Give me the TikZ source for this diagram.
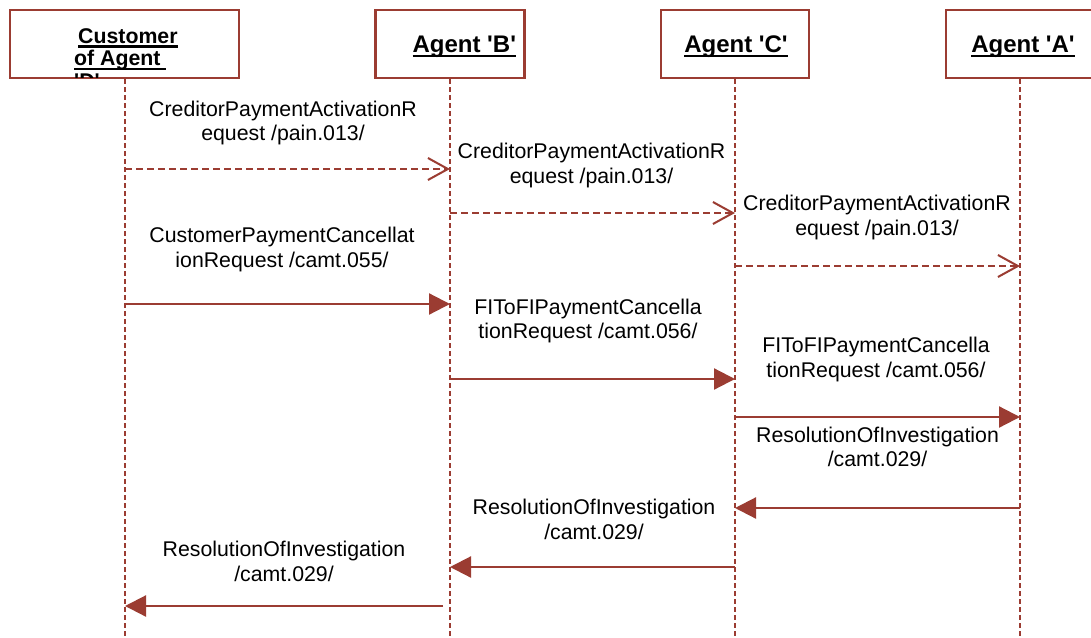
\documentclass[tikz,border=0pt]{standalone}
\usepackage{fontspec}
\setmainfont{Liberation Sans}
\usetikzlibrary{arrows.meta}
\definecolor{ln}{RGB}{155,60,50}
\newcommand\myul[2]{\setbox0=\hbox{#2}\rlap{\rule[-#1]{\wd0}{2.4pt}}\box0}
\tikzset{
  hbox/.style={draw=ln, line width=2.5pt, fill=white, minimum height=68pt, inner sep=0pt},
  htext/.style={inner sep=0pt, font=\fontsize{24}{28}\selectfont\bfseries},
  ctext/.style={inner sep=0pt, anchor=base west, font=\fontsize{21.3}{24}\selectfont\bfseries},
  lifeline/.style={draw=ln, line width=2.2pt, dash pattern=on 5pt off 3pt},
  lbl/.style={inner sep=0pt, anchor=north, align=center, font=\fontsize{21.3}{24.5}\selectfont},
  async/.style={draw=ln, line width=2pt, dash pattern=on 7pt off 4pt, -{Straight Barb[length=20pt,width=22pt,line width=2pt]}},
  sync/.style={draw=ln, line width=2.2pt, -{Triangle[length=21pt,width=21pt]}}
}
\begin{document}
\begin{tikzpicture}[x=1pt,y=-1pt]
\useasboundingbox (0,0) rectangle (1091,637);
\fill[white] (0,0) rectangle (1091,637);
% lifeline heads
\node[hbox, minimum width=229pt] (cust) at (124.5,44) {};
\node[hbox, minimum width=148.6pt] (agb) at (450,44) {};
\node[hbox, minimum width=148.3pt] (agc) at (735,44) {};
\node[hbox, minimum width=148pt] (aga) at (1020,44) {};
% lifelines
\coordinate (custend) at (125,637);
\coordinate (agbend) at (450,637);
\coordinate (agcend) at (735,637);
\coordinate (agaend) at (1020,637);
\draw[lifeline] (cust.south -| custend) -- (custend);
\draw[lifeline] (agb.south) -- (agbend);
\draw[lifeline] (agc.south) -- (agcend);
\draw[lifeline] (aga.south) -- (agaend);
% header texts
\begin{scope}
\clip (11,11) rectangle (238,77);
\node[ctext] (custt1) at (78,43.3) {\myul{4.5pt}{Customer}};
\node[ctext] (custt2) at (74,65.7) {\myul{4.5pt}{of Agent\ }};
\node[ctext] (custt3) at (74,88) {\myul{4.5pt}{\textquotesingle D\textquotesingle}};
\end{scope}
\node[htext, anchor=base] (agbt) at (464.3,52) {\myul{5pt}{Agent \textquotesingle B\textquotesingle}};
\node[htext, anchor=base] (agct) at (736,52) {\myul{5pt}{Agent \textquotesingle C\textquotesingle}};
\node[htext, anchor=base] (agat) at (1023,52) {\myul{5pt}{Agent \textquotesingle A\textquotesingle}};
% message points
\coordinate (c1) at (125,169);  \coordinate (b1) at (450,169);
\coordinate (b2) at (450,213);  \coordinate (cc2) at (735,213);
\coordinate (cc3) at (735,266); \coordinate (a3) at (1020,266);
\coordinate (c4) at (125,304);  \coordinate (b4) at (450,304);
\coordinate (b5) at (450,379);  \coordinate (cc5) at (735,379);
\coordinate (cc6) at (735,417); \coordinate (a6) at (1020,417);
\coordinate (a7) at (1020,508); \coordinate (cc7) at (735,508);
\coordinate (cc8) at (735,567); \coordinate (b8) at (450,567);
\coordinate (b9) at (443,606);  \coordinate (c9) at (125,606);
% messages
\draw[async] (c1) -- (b1);
\draw[async] (b2) -- (cc2);
\draw[async] (cc3) -- (a3);
\draw[sync] (c4) -- (b4);
\draw[sync] (b5) -- (cc5);
\draw[sync] (cc6) -- (a6);
\draw[sync] (a7) -- (cc7);
\draw[sync] (cc8) -- (b8);
\draw[sync] (b9) -- (c9);
% labels
\node[lbl] (l1) at (283,100.5) {CreditorPaymentActivationR\\equest /pain.013/};
\node[lbl] (l2) at (591.5,143.2) {CreditorPaymentActivationR\\equest /pain.013/};
\node[lbl] (l3) at (877,195.2) {CreditorPaymentActivationR\\equest /pain.013/};
\node[lbl] (l4) at (282,227) {CustomerPaymentCancellat\\ionRequest /camt.055/};
\node[lbl] (l5) at (588,298.5) {FIToFIPaymentCancella\\tionRequest /camt.056/};
\node[lbl] (l6) at (876,337.2) {FIToFIPaymentCancella\\tionRequest /camt.056/};
\node[lbl] (l7) at (877.5,426.8) {ResolutionOfInvestigation\\/camt.029/};
\node[lbl] (l8) at (594,499.2) {ResolutionOfInvestigation\\/camt.029/};
\node[lbl] (l9) at (284,541.2) {ResolutionOfInvestigation\\/camt.029/};
\end{tikzpicture}
\end{document}
